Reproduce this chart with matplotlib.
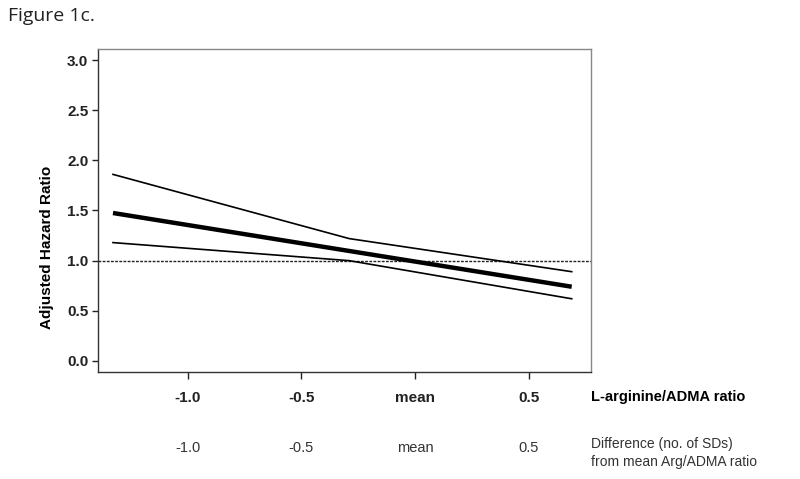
import matplotlib.pyplot as plt

# Datos (diferencia en SDs respecto a la media)
x_principal = [-1.33, 0.69]
hr_principal = [1.475, 0.74]

x_superior = [-1.33, -0.29, 0.69]
hr_superior = [1.86, 1.22, 0.89]

x_inferior = [-1.33, -0.29, 0.69]
hr_inferior = [1.18, 1.00, 0.62]

posiciones_x = [-1.0, -0.5, 0.0, 0.5]
etiquetas_x = ['-1.0', '-0.5', 'mean', '0.5']
valores_y = [0.0, 0.5, 1.0, 1.5, 2.0, 2.5, 3.0]

plt.rcParams['font.family'] = ['Liberation Sans', 'DejaVu Sans']

fig = plt.figure(figsize=(8, 4.79), dpi=100)
ax = fig.add_axes([0.1225, 0.2234, 0.61625, 0.6743])

# Linea de referencia HR = 1
ax.axhline(1.0, color='#222222', lw=1.0, ls=(0, (2, 1)))

ax.plot(x_superior, hr_superior, color='black', lw=1.2)
ax.plot(x_inferior, hr_inferior, color='black', lw=1.2)
ax.plot(x_principal, hr_principal, color='black', lw=3.2, solid_capstyle='butt')

ax.set_xlim(-1.396, 0.775)
ax.set_ylim(-0.11, 3.11)

ax.set_yticks(valores_y)
ax.set_yticklabels(['%.1f' % v for v in valores_y], fontweight='bold', fontsize=11)
ax.set_xticks(posiciones_x)
ax.set_xticklabels(etiquetas_x, fontweight='bold', fontsize=11)
ax.tick_params(axis='x', length=5, width=1, pad=8.5, colors='#222222')
ax.tick_params(axis='y', length=4, width=1, pad=3, colors='#222222')

for lado in ['left', 'bottom']:
    ax.spines[lado].set_color('#333333')
    ax.spines[lado].set_linewidth(1.0)
for lado in ['top', 'right']:
    ax.spines[lado].set_color('#888888')
    ax.spines[lado].set_linewidth(1.0)

ax.set_ylabel('Adjusted Hazard Ratio', fontweight='bold', fontsize=11)
ax.yaxis.set_label_coords(-0.089, 0.387)

# Segunda fila de etiquetas del eje x
for pos, etiqueta in zip(posiciones_x, etiquetas_x):
    ax.annotate(etiqueta, xy=(pos, 0), xycoords=('data', 'axes fraction'),
                xytext=(0, -76), textcoords='offset pixels',
                ha='center', va='center', fontsize=10.5, color='#333333')

fig.text(591 / 800, 1 - 397 / 479, 'L-arginine/ADMA ratio', fontweight='bold',
         fontsize=10.5, ha='left', va='center')
fig.text(591 / 800, 1 - 453 / 479, 'Difference (no. of SDs)\nfrom mean Arg/ADMA ratio',
         fontsize=10, ha='left', va='center', color='#333333', linespacing=1.3)

fig.text(8 / 800, 1 - 16 / 479, 'Figure 1c.', fontsize=14, ha='left', va='center',
         family=['Open Sans', 'DejaVu Sans'], color='#222222')

fig.savefig('out.png', dpi=100)
